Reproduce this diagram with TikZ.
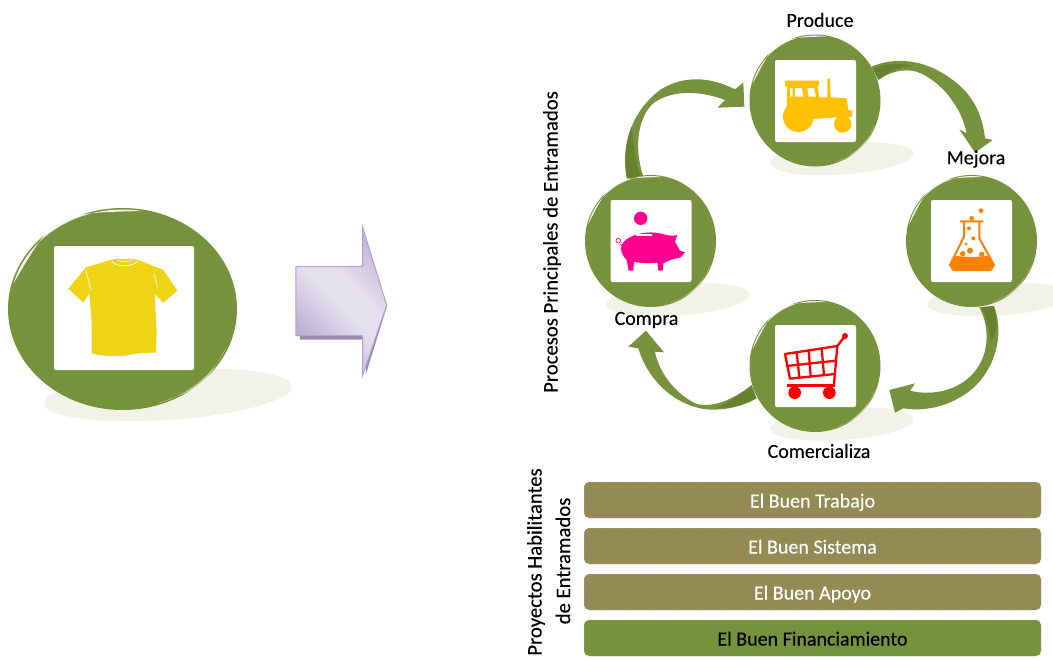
\documentclass[tikz,border=0pt]{standalone}
\usepackage{fontspec}
\setmainfont{Carlito}
\newfontfamily\labfont[FakeBold=0.25]{Carlito}
\newfontfamily\barfont[FakeBold=0.2]{Carlito}
\usetikzlibrary{shapes.geometric}
\definecolor{orbgreen}{HTML}{76923C}
\definecolor{darkgreen}{HTML}{668230}
\definecolor{barolive}{HTML}{948A54}
\definecolor{shadowc}{HTML}{F3F2E8}
\definecolor{lililine}{HTML}{B3A2CF}
\definecolor{lilia}{HTML}{BBAED3}
\definecolor{lilib}{HTML}{E5E0EE}
\definecolor{lilic}{HTML}{C3B6D8}
\pgfdeclareradialshading{softshadow}{\pgfpointorigin}{color(0bp)=(shadowc); color(36bp)=(shadowc); color(50bp)=(white)}
\pgfdeclarehorizontalshading{lilacband}{100bp}{color(0bp)=(lilia); color(28bp)=(lilia); color(48bp)=(lilib); color(58bp)=(lilib); color(76bp)=(lilic); color(100bp)=(lilic)}
\tikzset{
  orb/.style={ellipse,fill=orbgreen,inner sep=0pt},
  card/.style={rectangle,fill=white,rounded corners=2pt,inner sep=0pt},
  lab/.style={font=\labfont\fontsize{20}{22}\selectfont,text=black,inner sep=0pt},
  sidelab/.style={font=\labfont\fontsize{20.7}{22}\selectfont,text=black,inner sep=0pt,rotate=90},
  barbox/.style={rectangle,rounded corners=5pt,minimum width=457pt,minimum height=36pt,inner sep=0pt,draw=white!75!black,densely dotted,line width=.5pt},
  bartext/.style={font=\barfont\fontsize{20}{22}\selectfont,inner sep=0pt,text height=13pt,text depth=3pt,yshift=-2.5pt},
  curve/.style={fill=orbgreen},
  curvedark/.style={fill=darkgreen},
  zoomA/.style={shift={(0,190)},x=.33333pt,y=-.33333pt},
  zoomB/.style={shift={(570,0)},x=.33333pt,y=-.33333pt},
  zoomC/.style={shift={(570,220)},x=.33333pt,y=-.33333pt}
}
\newcommand{\softshadow}[4]{\begin{scope}[shift={(#1,#2)},rotate=4]\shade[shading=softshadow] (0,0) ellipse [x radius=#3,y radius=#4];\end{scope}}
\newcommand{\gloss}[4]{\begin{scope}[shift={(#1,#2)},x=#3pt,y=#4pt]
  \fill[white,opacity=.9] (80:.985) arc[start angle=80,end angle=165,radius=.985] .. controls (122:1.12) .. (80:.985);
  \fill[white,opacity=.55] (-22:.985) arc[start angle=-22,end angle=-72,radius=.985] .. controls (-47:1.045) .. (-22:.985);
\end{scope}}
\begin{document}
\begin{tikzpicture}[x=1pt,y=-1pt]
\useasboundingbox (0,0) rectangle (1053,659);
\fill[white] (0,0) rectangle (1053,659);
% shadows
\softshadow{168}{395}{124}{25}
\softshadow{842}{158.5}{72}{16}
\softshadow{678}{299.5}{72}{16}
\softshadow{999}{299.5}{72}{16}
\softshadow{842}{424}{72}{16}
% curved arrows
\begin{scope}[zoomB]
\path[curve] (170,535) .. controls (150,430) and (190,330) .. (270,270) .. controls (340,225) and (420,230) .. (495,268) -- (520,248) -- (523,320) -- (442,323) -- (465,300) .. controls (400,275) and (310,265) .. (250,310) .. controls (205,350) and (190,440) .. (220,530) -- cycle;
\path[curvedark] (172,535) .. controls (165,480) and (165,430) .. (185,380) .. controls (190,430) and (195,490) .. (215,535) -- cycle;
\path[curve] (905,200) .. controls (960,175) and (1040,175) .. (1110,215) .. controls (1190,260) and (1235,320) .. (1245,415) -- (1268,420) -- (1215,458) -- (1168,388) -- (1190,400) .. controls (1175,320) and (1110,240) .. (1040,215) .. controls (1000,205) and (960,215) .. (925,240) -- cycle;
\path[curvedark] (908,205) .. controls (950,190) and (990,188) .. (1030,197) .. controls (990,200) and (955,215) .. (925,238) -- cycle;
\end{scope}
\begin{scope}[zoomC]
\path[curve] (1272,258) .. controls (1295,320) and (1290,400) .. (1240,470) .. controls (1190,540) and (1090,580) .. (1000,565) -- (975,578) -- (958,510) -- (1035,490) -- (1020,512) .. controls (1090,530) and (1180,510) .. (1225,440) .. controls (1260,385) and (1255,310) .. (1228,262) -- cycle;
\path[curvedark] (1235,262) .. controls (1250,295) and (1260,330) .. (1262,365) .. controls (1280,340) and (1285,300) .. (1270,258) -- cycle;
\path[curve] (560,535) .. controls (510,565) and (440,575) .. (390,565) .. controls (300,545) and (230,470) .. (205,385) -- (175,380) -- (228,332) -- (282,397) -- (255,395) .. controls (265,450) and (310,520) .. (380,552) .. controls (440,565) and (500,530) .. (545,495) -- cycle;
\path[curvedark] (545,497) .. controls (510,525) and (480,545) .. (440,562) .. controls (480,568) and (520,552) .. (558,535) -- cycle;
\end{scope}
% orbs
\node[orb,minimum width=229pt,minimum height=202pt] (shirtorb) at (122.5,309) {};
\node[orb,minimum width=131pt,minimum height=132pt] (produceorb) at (815,100.5) {};
\node[orb,minimum width=131pt,minimum height=132pt] (mejoraorb) at (971.5,241) {};
\node[orb,minimum width=131pt,minimum height=132pt] (compraorb) at (650.5,241) {};
\node[orb,minimum width=131pt,minimum height=132pt] (comerorb) at (815,366) {};
\gloss{122.5}{309}{114.5}{101}
\gloss{815}{100.5}{65.5}{66}
\gloss{971.5}{241}{65.5}{66}
\gloss{650.5}{241}{65.5}{66}
\gloss{815}{366}{65.5}{66}
% cards
\node[card,minimum width=140pt,minimum height=124pt] (shirtcard) at (124,308) {};
\node[card,minimum width=81pt,minimum height=82pt] (producecard) at (815.5,101) {};
\node[card,minimum width=81pt,minimum height=82pt] (mejoracard) at (971.5,241) {};
\node[card,minimum width=81pt,minimum height=82pt] (compracard) at (651,241) {};
\node[card,minimum width=81pt,minimum height=82pt] (comercard) at (815.5,366) {};
% shirt
\begin{scope}[zoomA]
\fill[fill={rgb,255:red,238;green,212;blue,20}] (330,210) .. controls (350,205) and (395,205) .. (415,210) -- (470,232) -- (490,240) -- (532,302) -- (490,338) -- (464,312) -- (470,420) -- (468,488) .. controls (430,488) and (400,490) .. (380,497) .. controls (340,500) and (300,498) .. (275,490) -- (275,400) -- (268,310) -- (250,338) -- (205,296) -- (258,232) -- cycle;
\draw[white,line width=.7pt] (258,240) -- (272,300) (462,250) -- (472,290);
\draw[white,line width=.7pt] (335,214) .. controls (350,232) and (395,232) .. (412,214);
\draw[white,line width=.6pt] (352,210) .. controls (365,216) and (385,216) .. (398,210);
\end{scope}
% tractor
\begin{scope}[zoomB]
\definecolor{tractorc}{HTML}{FFC000}
\fill[tractorc] (645,242) -- (748,242) -- (746,258) -- (742,258) -- (748,292) -- (772,292) -- (772,235) -- (780,235) -- (782,292) -- (830,295) -- (835,330) -- (848,332) -- (845,352) -- (835,350) -- (800,352) -- (730,357) -- (720,330) -- (650,330) -- (652,262) -- (645,258) -- cycle;
\fill[tractorc] (685,350) circle [radius=46];
\fill[tractorc] (818,372) circle [radius=26];
\fill[white] (660,264) -- (668,264) -- (668,290) -- (660,290) -- cycle
  (675,264) -- (696,264) -- (700,290) -- (675,290) -- cycle
  (712,264) -- (732,264) -- (738,290) -- (716,290) -- cycle;
\end{scope}
% pig
\begin{scope}[zoomC]
\definecolor{pigc}{HTML}{FF0090}
\fill[pigc] (212,-5) circle [radius=20];
\fill[pigc] (155,75) .. controls (165,50) and (220,30) .. (270,40) .. controls (290,45) and (305,50) .. (322,45) -- (315,65) -- (330,92) -- (345,97) -- (332,112) -- (300,120) .. controls (290,125) and (285,128) .. (280,130) -- (278,152) -- (265,152) -- (262,128) .. controls (240,130) and (210,130) .. (192,125) -- (190,152) -- (176,152) -- (170,120) .. controls (155,105) and (150,90) .. (155,75) -- cycle;
\fill[white] (198,41) rectangle (245,49);
\draw[pigc,line width=.7pt] (145,62) circle [radius=7] (150,72) -- (158,78);
\end{scope}
% flask
\begin{scope}[zoomC]
\definecolor{flaskc}{HTML}{FF8000}
\fill[flaskc] (1158,107) .. controls (1180,112) and (1230,112) .. (1255,107) -- (1272,135) -- (1262,150) -- (1150,150) -- (1140,135) -- cycle;
\draw[flaskc,line width=2pt,line join=round] (1170,4) -- (1240,4) (1182,4) -- (1182,50) -- (1140,135) -- (1150,150) -- (1262,150) -- (1272,135) -- (1228,55) -- (1228,4);
\fill[flaskc] (1178,101) circle [radius=8] (1200,92) circle [radius=9] (1235,103) circle [radius=8] (1210,55) circle [radius=6] (1188,72) circle [radius=5] (1233,-28) circle [radius=7] (1205,-5) circle [radius=7] (1197,25) circle [radius=6];
\end{scope}
% cart
\begin{scope}[zoomC]
\definecolor{cartc}{HTML}{FF0000}
\draw[cartc,line width=2.3pt,line join=round,line cap=round] (825,348) -- (802,378) -- (792,492) (645,402) -- (802,378) (645,402) -- (660,476) -- (795,462) (650,438) -- (798,422) (680,396) -- (688,472) (716,391) -- (722,468) (755,386) -- (762,465);
\draw[cartc,line width=3pt] (650,495) -- (795,495);
\fill[cartc] (825,348) circle [radius=9] (674,518) circle [radius=19] (778,518) circle [radius=19];
\end{scope}
% block arrow
\begin{scope}[zoomA]
\fill[lililine!85!black] (900,300) -- (1100,300) -- (1162,345) -- (1098,552) -- (1097,449) -- (900,449) -- cycle;
\shadedraw[draw=lililine,line width=1pt,shading=lilacband,shading angle=45] (888,230) -- (1088,230) -- (1088,112) -- (1160,345) -- (1088,555) -- (1088,437) -- (888,437) -- cycle;
\end{scope}
% labels
\node[lab] (producelab) at (820,20) {Produce};
\node[lab] (mejoralab) at (976,159) {Mejora};
\node[lab] (compralab) at (646.5,320) {Compra};
\node[lab] (comerlab) at (819,451) {Comercializa};
\node[sidelab] (proclab) at (552,242) {Procesos Principales de Entramados};
\node[sidelab] (proylab) at (536,562) {Proyectos Habilitantes};
\node[sidelab] (proylabb) at (563,561) {de Entramados};
% bars
\node[barbox,fill=barolive] (bartrabajo) at (812.5,500) {};
\node[barbox,fill=barolive] (barsistema) at (812.5,546) {};
\node[barbox,fill=barolive] (barapoyo) at (812.5,592) {};
\node[barbox,fill=orbgreen] (barfin) at (812.5,638) {};
\node[bartext,text=white] (txttrabajo) at (bartrabajo) {El Buen Trabajo};
\node[bartext,text=white] (txtsistema) at (barsistema) {El Buen Sistema};
\node[bartext,text=white] (txtapoyo) at (barapoyo) {El Buen Apoyo};
\node[bartext,text=black] (txtfin) at (barfin) {El Buen Financiamiento};
\end{tikzpicture}
\end{document}
